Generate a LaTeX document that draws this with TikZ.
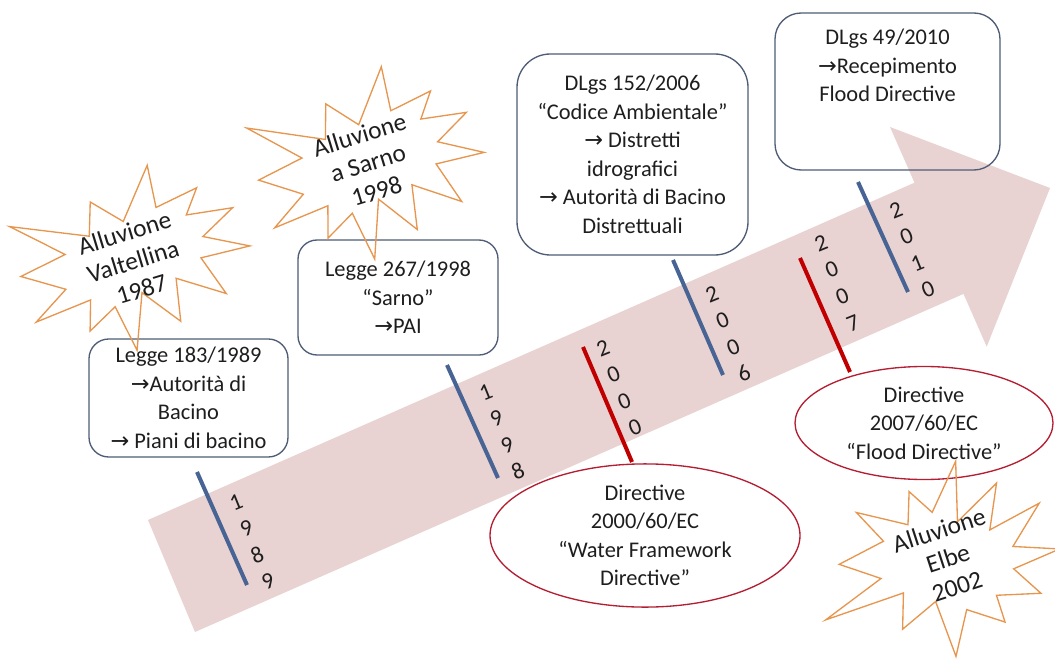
\documentclass[tikz,border=0pt]{standalone}
\usepackage{fontspec}
\setmainfont{Carlito}
\newfontfamily\arrowfont{DejaVu Sans}
\usetikzlibrary{calc,shapes.geometric}

\newcommand{\ra}{{\arrowfont →}}

\definecolor{bandpink}{RGB}{233,210,210}
\definecolor{boxline}{RGB}{78,92,118}
\definecolor{starline}{RGB}{230,150,78}
\definecolor{ellline}{RGB}{180,30,50}
\definecolor{tickblue}{RGB}{72,100,148}
\definecolor{tickred}{RGB}{192,0,0}
\definecolor{ink}{RGB}{30,30,30}

\tikzset{
  lbl/.style={font=\fontsize{16.8}{21.4}\selectfont, align=center, text=ink, inner sep=0pt},
  lawbox/.style={lbl, draw=boxline, line width=1pt, fill=white},
  direllipse/.style={lbl, ellipse, draw=ellline, line width=1pt, fill=white},
  burstline/.style={draw=starline, line width=1pt, line join=miter},
  bursttext/.style={lbl, font=\fontsize{19}{22}\selectfont},
  tickb/.style={draw=tickblue, line width=3pt},
  tickr/.style={draw=tickred, line width=3pt},
  digits/.style={font=\fontsize{17.5}{21.45}\selectfont, align=center, text=ink, inner sep=0pt, rotate=22},
}

% explosion outline: centre (#1,#2), unit x-axis (#3,#4), unit y-axis (#5,#6)
\newcommand{\burst}[6]{%
  \draw[burstline] ({#1+(0)*(#3)+(-0.463)*(#5)},{#2+(0)*(#4)+(-0.463)*(#6)})
    \foreach \u/\v in {0.345/-1.0, 0.311/-0.507, 0.702/-0.587, 0.546/-0.323,
      0.953/-0.247, 0.630/-0.030, 1.0/0.231, 0.559/0.198, 0.680/0.675,
      0.298/0.339, 0.227/0.827, -0.025/0.383, -0.214/1.0, -0.286/0.447,
      -0.559/0.631, -0.475/0.290, -0.988/0.351, -0.655/0.090, -1.0/-0.202,
      -0.572/-0.295, -0.966/-0.788, -0.323/-0.415, -0.227/-0.788}
    { -- ({#1+(\u)*(#3)+(\v)*(#5)},{#2+(\u)*(#4)+(\v)*(#6)}) } -- cycle;}

\begin{document}
\begin{tikzpicture}[x=0.75pt,y=-0.75pt]
\useasboundingbox (0,0) rectangle (1055,659);

% timeline arrow
\coordinate (a1) at (148,520);
\coordinate (a2) at (914.5,182.7);
\coordinate (a3) at (890,127);
\coordinate (a4) at (1050,188);
\coordinate (a5) at (986.7,346.6);
\coordinate (a6) at (963.5,293.9);
\coordinate (a7) at (195,632);
\fill[bandpink] (a1) -- (a2) -- (a3) -- (a4) -- (a5) -- (a6) -- (a7) -- cycle;

% year marks
\coordinate (k89a) at (197,472);  \coordinate (k89b) at (247,585);
\coordinate (k98a) at (447,365);  \coordinate (k98b) at (498,478);
\coordinate (k00a) at (583,347);  \coordinate (k00b) at (632,462);
\coordinate (k06a) at (673,260);  \coordinate (k06b) at (723,375);
\coordinate (k07a) at (800,258);  \coordinate (k07b) at (850,372);
\coordinate (k10a) at (858,182);  \coordinate (k10b) at (908,292);
\draw[tickb] (k89a) -- (k89b);
\draw[tickb] (k98a) -- (k98b);
\draw[tickr] (k00a) -- (k00b);
\draw[tickb] (k06a) -- (k06b);
\draw[tickr] (k07a) -- (k07b);
\draw[tickb] (k10a) -- (k10b);
\node[digits] (y89) at (252,542) {1\\9\\8\\9};
\node[digits] (y98) at (502,432) {1\\9\\9\\8};
\node[digits] (y00) at (619,388) {2\\0\\0\\0};
\node[digits] (y06) at (728,334) {2\\0\\0\\6};
\node[digits] (y07) at (837,283) {2\\0\\0\\7};
\node[digits] (y10) at (912,250) {2\\0\\1\\0};

% laws
\node[lawbox, rounded corners=14.8pt, minimum width=149.25pt, minimum height=88.5pt] (b1) at (188.5,398)
  {Legge 183/1989\\\ra Autorità di\\Bacino\\\ra{} Piani di bacino};
\node[lawbox, rounded corners=14.3pt, minimum width=150pt, minimum height=86.25pt] (b2) at (398,297.5)
  {Legge 267/1998\\“Sarno”\\\ra PAI};
\node[lawbox, rounded corners=25pt, minimum width=173.25pt, minimum height=150.75pt] (b3) at (632.5,154.5)
  {DLgs 152/2006\\“Codice Ambientale”\\\ra{} Distretti\\idrografici\\\ra{} Autorità di Bacino\\Distrettuali};
\node[lawbox, fill=none, rounded corners=19.6pt, minimum width=168.75pt, minimum height=117.75pt] (b4) at (887.5,91.5) {};
\node[lbl] (b4t) at (887.5,65.5) {DLgs 49/2010\\\ra Recepimento\\Flood Directive};

% EU directives
\node[direllipse, minimum width=232.5pt, minimum height=101.25pt] (e1) at (645,535.5)
  {Directive\\2000/60/EC\\“Water Framework\\Directive”};
\node[direllipse, minimum width=193.5pt, minimum height=84.75pt] (e2) at (924,423)
  {Directive\\2007/60/EC\\“Flood Directive”};

% floods
\burst{135}{260}{109}{-33.3}{25.4}{83.2}
\node[bursttext, rotate=17] (s1) at (133,261) {Alluvione\\Valtellina\\1987};
\burst{371}{165}{107}{-32.7}{26.6}{87}
\node[bursttext, rotate=17] (s2) at (368,163) {Alluvione\\a Sarno\\1998};
\burst{949}{558}{104}{12.66}{28.9}{-94}
\node[bursttext, rotate=18] (s3) at (948,558) {Alluvione\\Elbe\\2002};
\end{tikzpicture}
\end{document}
